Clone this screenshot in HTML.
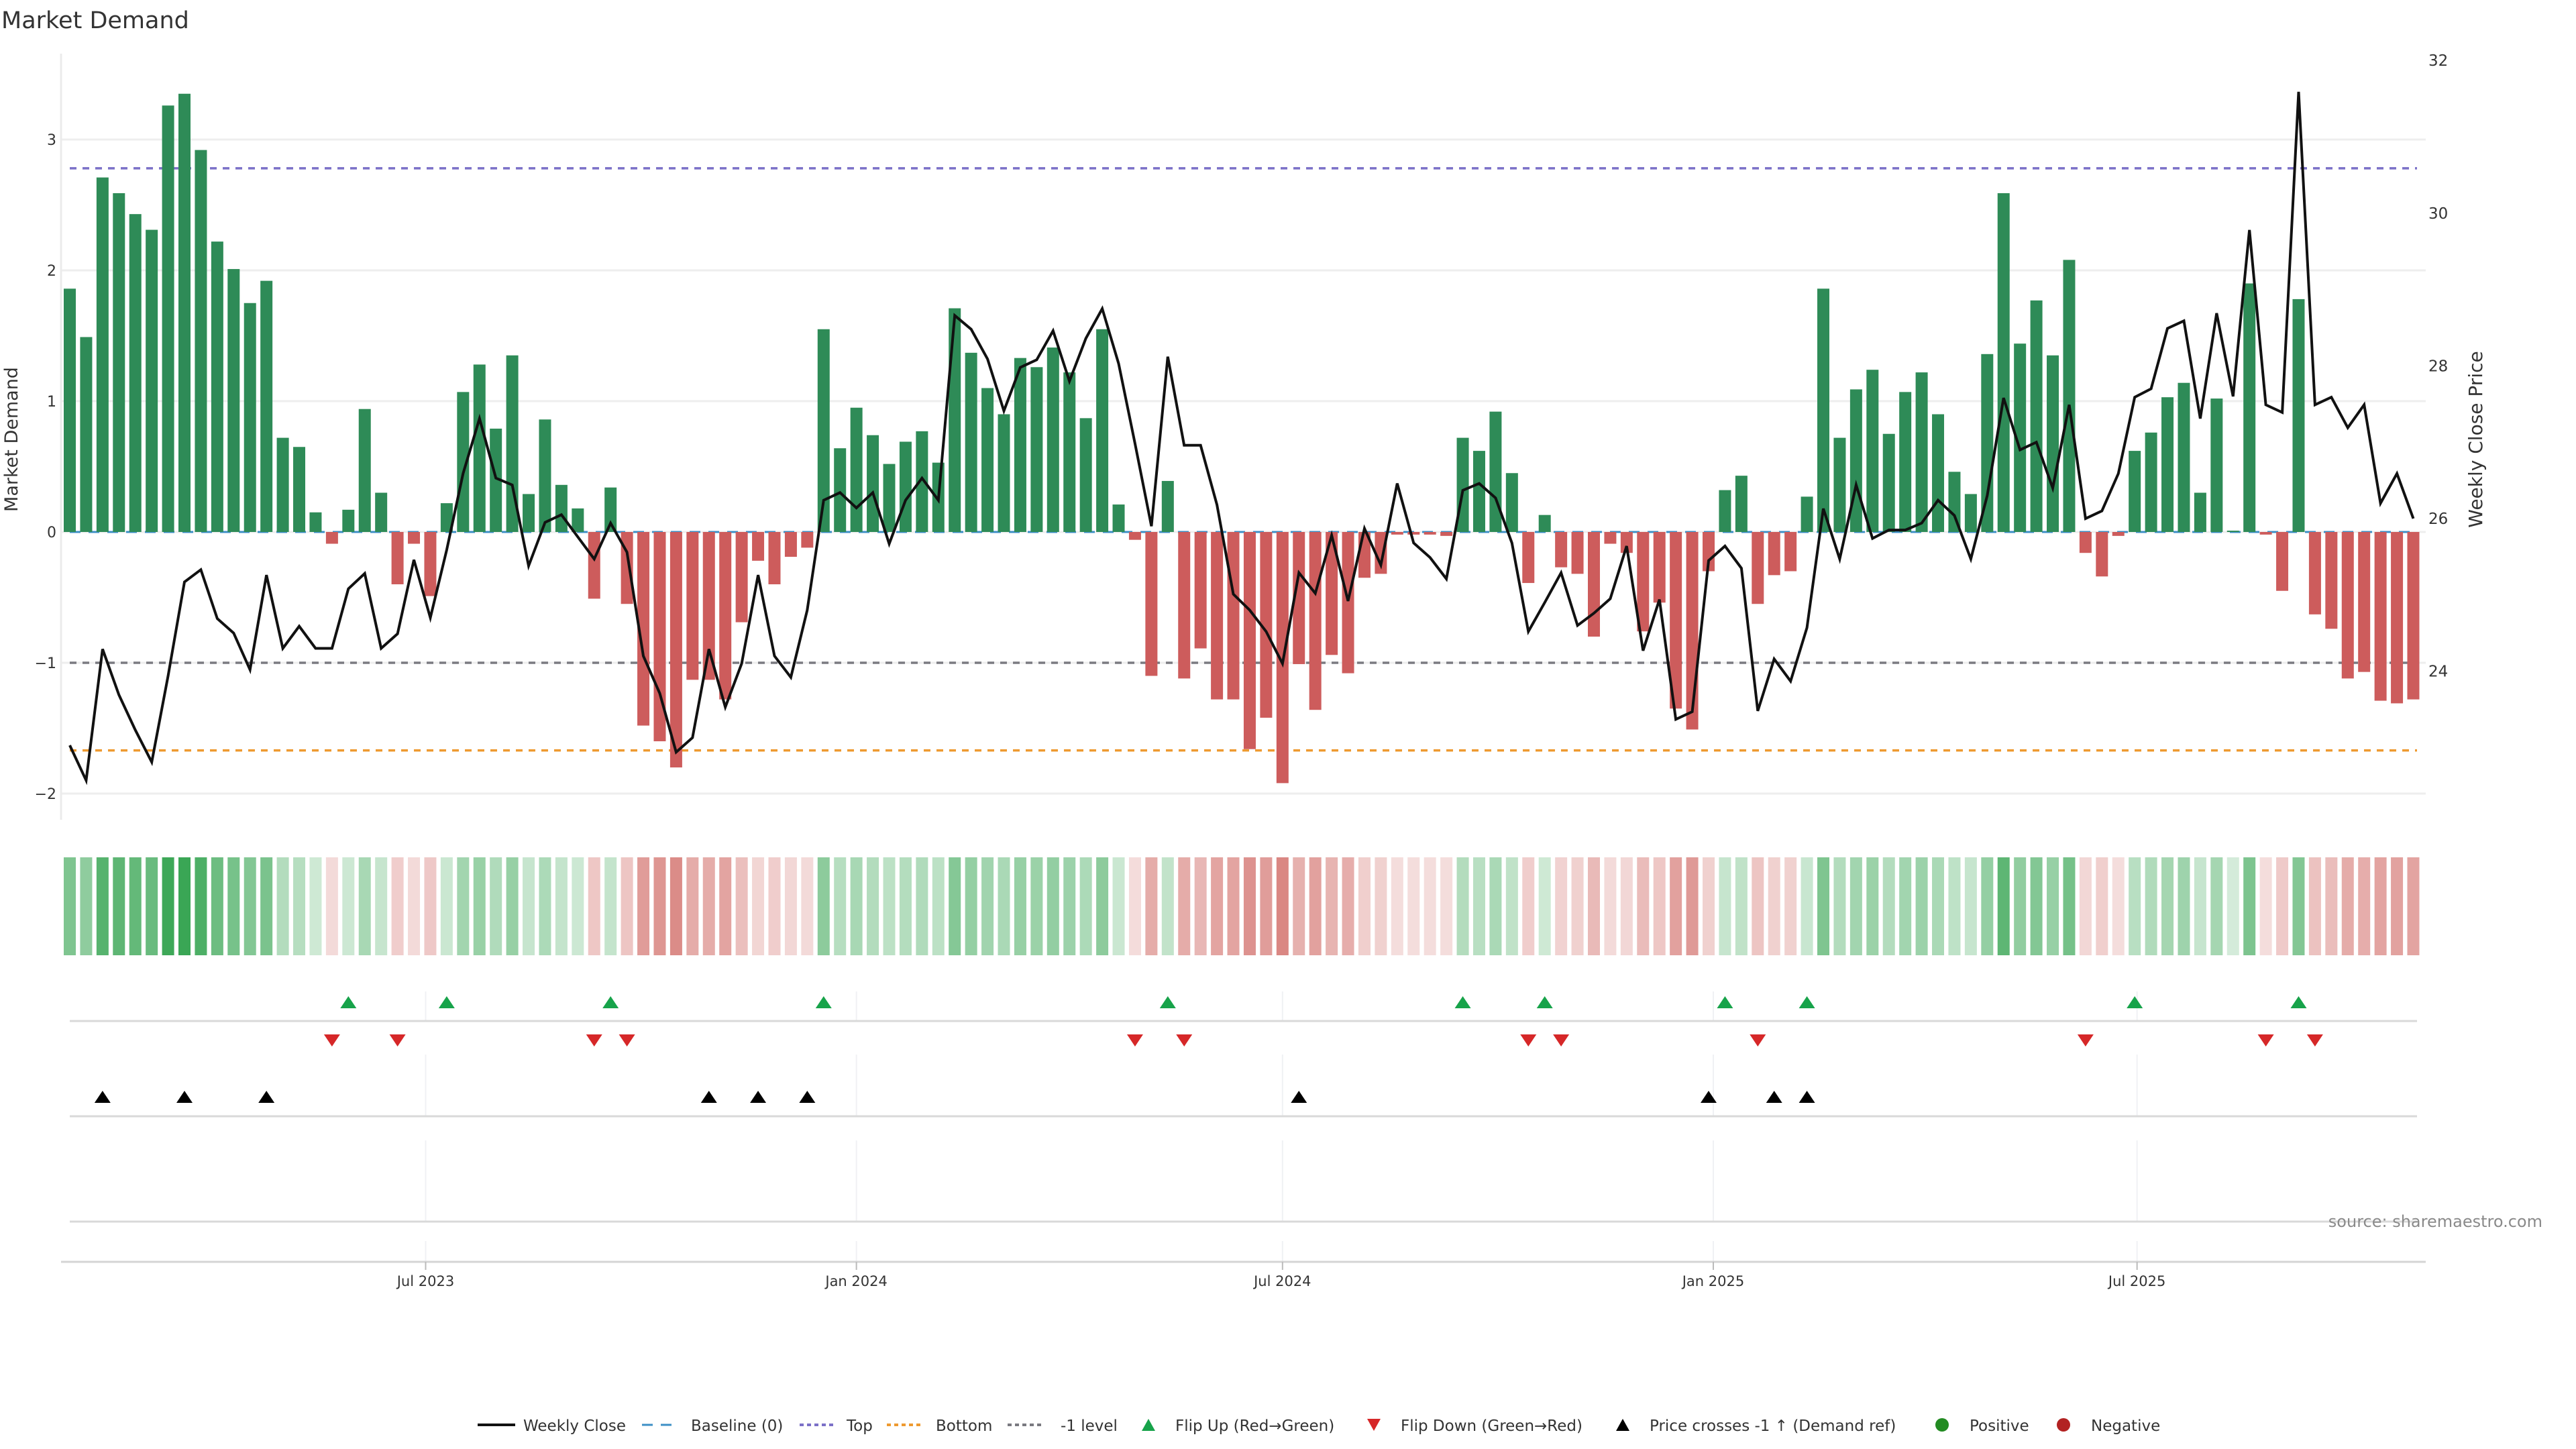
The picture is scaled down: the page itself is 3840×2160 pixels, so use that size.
<!DOCTYPE html>
<html><head><meta charset="utf-8"><title>Market Demand</title>
<style>
html,body{margin:0;padding:0;background:#fff;}
svg{display:block;font-family:"DejaVu Sans","Liberation Sans",sans-serif;}
</style></head>
<body>
<svg id="chart" xmlns="http://www.w3.org/2000/svg" width="3840" height="2160" viewBox="0 0 3840 2160">
<rect x="0" y="0" width="3840" height="2160" fill="#fff"/>
<text x="2" y="42" font-size="35" fill="#333">Market Demand</text>
<g id="grid"></g>
<g id="refs"></g>
<g id="bars"></g>
<g id="price"></g>
<g id="strip"></g>
<g id="markers"></g>
<g id="axes"></g>
<text x="3790" y="1829" font-size="24" fill="#8a8a8a" text-anchor="end">source: sharemaestro.com</text>
<g id="legend"></g>
</svg>
<script>
const demand = [1.86,1.49,2.71,2.59,2.43,2.31,3.26,3.35,2.92,2.22,2.01,1.75,1.92,0.72,0.65,0.15,-0.09,0.17,0.94,0.30,
-0.40,-0.09,-0.49,0.22,1.07,1.28,0.79,1.35,0.29,0.86,0.36,0.18,-0.51,0.34,-0.55,-1.48,-1.60,-1.80,-1.13,-1.13,
-1.28,-0.69,-0.22,-0.40,-0.19,-0.12,1.55,0.64,0.95,0.74,0.52,0.69,0.77,0.53,1.71,1.37,1.10,0.90,1.33,1.26,
1.41,1.22,0.87,1.55,0.21,-0.06,-1.10,0.39,-1.12,-0.89,-1.28,-1.28,-1.66,-1.42,-1.92,-1.01,-1.36,-0.94,-1.08,-0.35,
-0.32,-0.02,-0.02,-0.02,-0.03,0.72,0.62,0.92,0.45,-0.39,0.13,-0.27,-0.32,-0.80,-0.09,-0.16,-0.76,-0.54,-1.35,-1.51,
-0.30,0.32,0.43,-0.55,-0.33,-0.30,0.27,1.86,0.72,1.09,1.24,0.75,1.07,1.22,0.90,0.46,0.29,1.36,2.59,1.44,
1.77,1.35,2.08,-0.16,-0.34,-0.03,0.62,0.76,1.03,1.14,0.30,1.02,0.01,1.90,-0.02,-0.45,1.78,-0.63,-0.74,-1.12,
-1.07,-1.29,-1.31,-1.28];
const price = [23.03,22.57,24.29,23.69,23.23,22.81,23.94,25.17,25.33,24.69,24.50,24.02,25.26,24.30,24.59,24.30,24.30,25.08,25.28,24.30,
24.49,25.46,24.70,25.59,26.59,27.31,26.53,26.44,25.38,25.95,26.05,25.76,25.47,25.94,25.56,24.20,23.71,22.94,23.13,24.29,
23.53,24.10,25.26,24.20,23.92,24.80,26.24,26.34,26.14,26.34,25.67,26.24,26.53,26.24,28.66,28.48,28.09,27.41,27.98,28.08,
28.46,27.80,28.36,28.75,28.03,26.98,25.90,28.12,26.96,26.96,26.18,25.01,24.80,24.52,24.10,25.29,25.02,25.78,24.92,25.87,
25.39,26.46,25.68,25.49,25.21,26.37,26.46,26.27,25.68,24.52,24.90,25.29,24.60,24.76,24.95,25.64,24.27,24.94,23.37,23.47,
25.45,25.64,25.35,23.48,24.16,23.87,24.57,26.13,25.47,26.44,25.74,25.85,25.85,25.94,26.24,26.04,25.47,26.30,27.58,26.90,
27.00,26.40,27.49,26.00,26.10,26.59,27.59,27.70,28.49,28.59,27.31,28.69,27.60,29.78,27.49,27.39,31.59,27.49,27.59,27.19,
27.49,26.20,26.59,26.00];
const startDate = "2023-01-30";
const leftTicks = [3,2,1,0,-1,-2];
const leftTickLabels = ["3","2","1","0","\u22121","\u22122"];
const rightTicks = [32,30,28,26,24];
const dateTicks = ["2023-07-01","2024-01-01","2024-07-01","2025-01-01","2025-07-01"];
const dateTickLabels = ["Jul 2023","Jan 2024","Jul 2024","Jan 2025","Jul 2025"];
const topLevel = 2.78;
const bottomLevel = -1.67;
const minusOneLevel = -1;
const priceRef = 24.13;

const NS = "http://www.w3.org/2000/svg";
function mk(tag, attrs, parent){const e=document.createElementNS(NS,tag);for(const k in attrs)e.setAttribute(k,attrs[k]);parent.appendChild(e);return e;}
const X0=104, STEP=24.43, BW=18;
const t0 = new Date(startDate+"T00:00:00Z").getTime();
function xIdx(i){return X0+i*STEP;}
function xDate(d){return X0+(new Date(d+"T00:00:00Z").getTime()-t0)/(7*864e5)*STEP;}
function yL(v){return 793-v*195;}
function yR(p){return 773-(p-26)*113.8;}
const PL=91, PR=3616, LX0=104, LX1=3603;

const grid=document.getElementById('grid');
leftTicks.forEach(v=>{const l=mk('line',{x1:PL,x2:PR,y1:yL(v),y2:yL(v),stroke:'#eeeeee','stroke-width':3},grid);
});
const la=mk('line',{x1:PL,x2:PL,y1:80,y2:1222,stroke:'#ebebeb','stroke-width':3},grid);

dateTicks.forEach(d=>{const x=xDate(d);
[[1478,1522],[1572,1664],[1700,1821],[1850,1881]].forEach(s=>{const l=mk('line',{x1:x,x2:x,y1:s[0],y2:s[1],stroke:'#f0f1f4','stroke-width':2},grid);
});});

const refs=document.getElementById('refs');
function ref(y,color,dash,name,w){const l=mk('line',{x1:LX0,x2:LX1,y1:y,y2:y,stroke:color,'stroke-width':w||4,'stroke-dasharray':dash},refs);
}
ref(yL(topLevel),'#7b70c8','10 9','top-line',3.5);
ref(yL(bottomLevel),'#ee9a30','10 9','bottom-line',3.5);
ref(yL(minusOneLevel),'#7a7a80','10 9','minus-one-line',3.5);

const bars=document.getElementById('bars');
demand.forEach((v,i)=>{const y0=yL(0),y1=yL(v);
const r=mk('rect',{x:xIdx(i)-BW/2,y:Math.min(y0,y1),width:BW,height:Math.max(1.5,Math.abs(y1-y0)),fill:v>=0?'#2e8b57':'#cd5c5c'},bars);
});
ref(yL(0),'#3d8fc6','16 12','baseline-zero',3);

const pg=document.getElementById('price');
const pts=price.map((p,i)=>xIdx(i).toFixed(1)+','+yR(p).toFixed(1)).join(' ');
const pl=mk('polyline',{points:pts,fill:'none',stroke:'#111','stroke-width':4,'stroke-linejoin':'miter'},pg);


const strip=document.getElementById('strip');
demand.forEach((v,i)=>{let fill;
if(v>=0){const a=Math.min(1,0.22+0.78*v/3.35);fill=`rgba(58,166,85,${a.toFixed(2)})`;}
else{const a=Math.min(1,0.2+0.55*(-v)/1.92);fill=`rgba(205,95,90,${a.toFixed(2)})`;}
const r=mk('rect',{x:xIdx(i)-BW/2,y:1278,width:BW,height:146,fill:fill},strip);
});

const mg=document.getElementById('markers');
[1522,1664,1821].forEach(y=>{const l=mk('line',{x1:LX0,x2:LX1,y1:y,y2:y,stroke:'#d9d9d9','stroke-width':3},mg);
});
function tri(x,y,up,color,name){const w=12,h=9;
const d=up?`M${x-w},${y+h} L${x+w},${y+h} L${x},${y-h} Z`:`M${x-w},${y-h} L${x+w},${y-h} L${x},${y+h} Z`;
const p=mk('path',{d:d,fill:color},mg);}
for(let i=1;i<demand.length;i++){
if(demand[i-1]<0&&demand[i]>=0)tri(xIdx(i),1494,true,'#17a34a','flip-up-marker');
if(demand[i-1]>=0&&demand[i]<0)tri(xIdx(i),1551,false,'#d62728','flip-down-marker');
if(price[i-1]<priceRef&&price[i]>=priceRef)tri(xIdx(i),1635,true,'#000','price-cross-marker');}

const ax=document.getElementById('axes');
const bl=mk('line',{x1:PL,x2:PR,y1:1881,y2:1881,stroke:'#d4d4d4','stroke-width':3},ax);

dateTicks.forEach((d,k)=>{const x=xDate(d);
const tk=mk('line',{x1:x,x2:x,y1:1881,y2:1893,stroke:'#bbb','stroke-width':2},ax);

const t=mk('text',{x:x,y:1917,'font-size':21,fill:'#333','text-anchor':'middle'},ax);t.textContent=dateTickLabels[k];
});
leftTicks.forEach((v,k)=>{const t=mk('text',{x:84,y:yL(v)+8,'font-size':22,fill:'#333','text-anchor':'end'},ax);t.textContent=leftTickLabels[k];
});
rightTicks.forEach(v=>{const t=mk('text',{x:3620,y:yR(v)+8,'font-size':23,fill:'#333'},ax);t.textContent=String(v);
});
const lt=mk('text',{x:0,y:0,'font-size':27,fill:'#333','text-anchor':'middle',transform:'translate(26,655) rotate(-90)'},ax);lt.textContent='Market Demand';

const rt=mk('text',{x:0,y:0,'font-size':28,fill:'#333','text-anchor':'middle',transform:'translate(3700,655) rotate(-90)'},ax);rt.textContent='Weekly Close Price';


const lg=document.getElementById('legend');
const LY=2133, LM=2124;
function ltext(x,s){const t=mk('text',{x:x,y:LY,'font-size':23,fill:'#333'},lg);t.textContent=s;}
function lline(x1,x2,color,dash,w){const l=mk('line',{x1:x1,x2:x2,y1:LM,y2:LM,stroke:color,'stroke-width':w,'stroke-dasharray':dash},lg);}
lline(712,768,'#111','none',4);ltext(780,'Weekly Close');
lline(957,1010,'#3d8fc6','16 12',3);ltext(1030,'Baseline (0)');
lline(1192,1244,'#7b70c8','6 5',4);ltext(1262,'Top');
lline(1322,1376,'#ee9a30','6 5',4);ltext(1395,'Bottom');
lline(1502,1554,'#7a7a80','6 5',4);ltext(1581,'-1 level');
function ltri(x,up,color){const w=10,h=9;const d=up?`M${x-w},${LM+h} L${x+w},${LM+h} L${x},${LM-h} Z`:`M${x-w},${LM-h} L${x+w},${LM-h} L${x},${LM+h} Z`;
const p=mk('path',{d:d,fill:color},lg);}
ltri(1712,true,'#17a34a');ltext(1752,'Flip Up (Red\u2192Green)');
ltri(2048,false,'#d62728');ltext(2088,'Flip Down (Green\u2192Red)');
ltri(2419,true,'#000');ltext(2459,'Price crosses -1 \u2191 (Demand ref)');
const c1=mk('circle',{cx:2895,cy:LM,r:10,fill:'#228b22'},lg);
ltext(2936,'Positive');
const c2=mk('circle',{cx:3076,cy:LM,r:10,fill:'#b22222'},lg);
ltext(3117,'Negative');
</script>
</body></html>
